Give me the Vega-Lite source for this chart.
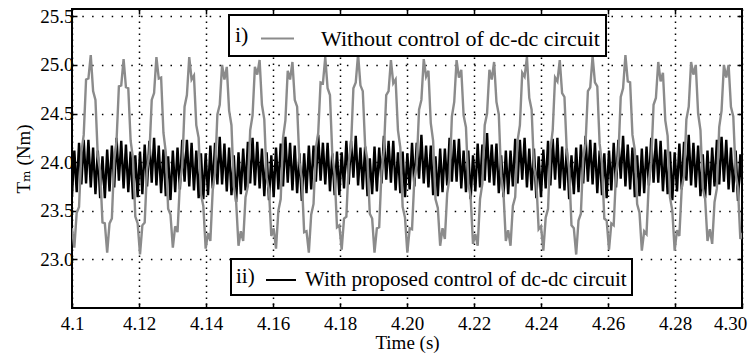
{
"$schema": "https://vega.github.io/schema/vega-lite/v6.json",
"width": 670, "height": 299,
"autosize": {"type": "none"},
"padding": {"left": 72, "top": 9, "right": 9, "bottom": 52},
"background": "white",
"data": {"values": [
{"t":4.1,"g":23.32,"b":23.65},{"t":4.1007,"g":23.12,"b":24.12},{"t":4.1014,"g":23.48,"b":23.69},{"t":4.1021,"g":23.54,"b":24.20},{"t":4.1028,"g":24.10,"b":23.77},{"t":4.1035,"g":24.28,"b":24.23},{"t":4.1042,"g":24.85,"b":23.78},{"t":4.1049,"g":24.86,"b":24.23},{"t":4.1056,"g":25.10,"b":23.74},{"t":4.1063,"g":24.73,"b":24.15},
{"t":4.107,"g":24.64,"b":23.67},{"t":4.1077,"g":24.06,"b":24.12},{"t":4.1084,"g":23.91,"b":23.63},{"t":4.1091,"g":23.38,"b":24.06},{"t":4.1098,"g":23.37,"b":23.63},{"t":4.1105,"g":23.07,"b":24.13},{"t":4.1112,"g":23.37,"b":23.70},{"t":4.1119,"g":23.42,"b":24.17},{"t":4.1126,"g":24.02,"b":23.74},{"t":4.1133,"g":24.22,"b":24.25},
{"t":4.114,"g":24.78,"b":23.81},{"t":4.1147,"g":24.79,"b":24.22},{"t":4.1154,"g":25.06,"b":23.73},{"t":4.1161,"g":24.77,"b":24.18},{"t":4.1168,"g":24.76,"b":23.69},{"t":4.1175,"g":24.22,"b":24.11},{"t":4.1182,"g":24.04,"b":23.62},{"t":4.1189,"g":23.44,"b":24.07},{"t":4.1196,"g":23.37,"b":23.64},{"t":4.1203,"g":23.05,"b":24.11},
{"t":4.121,"g":23.35,"b":23.67},{"t":4.1217,"g":23.38,"b":24.18},{"t":4.1224,"g":23.93,"b":23.75},{"t":4.1231,"g":24.08,"b":24.22},{"t":4.1238,"g":24.64,"b":23.79},{"t":4.1245,"g":24.71,"b":24.25},{"t":4.1252,"g":25.08,"b":23.76},{"t":4.1259,"g":24.86,"b":24.17},{"t":4.1266,"g":24.87,"b":23.68},{"t":4.1273,"g":24.30,"b":24.13},
{"t":4.128,"g":24.10,"b":23.65},{"t":4.1287,"g":23.52,"b":24.06},{"t":4.1294,"g":23.46,"b":23.61},{"t":4.1301,"g":23.12,"b":24.12},{"t":4.1308,"g":23.34,"b":23.69},{"t":4.1315,"g":23.28,"b":24.15},{"t":4.1322,"g":23.78,"b":23.72},{"t":4.1329,"g":23.95,"b":24.23},{"t":4.1336,"g":24.57,"b":23.80},{"t":4.1343,"g":24.69,"b":24.23},
{"t":4.135,"g":25.08,"b":23.75},{"t":4.1357,"g":24.85,"b":24.20},{"t":4.1364,"g":24.89,"b":23.71},{"t":4.1371,"g":24.38,"b":24.12},{"t":4.1378,"g":24.25,"b":23.63},{"t":4.1385,"g":23.67,"b":24.09},{"t":4.1392,"g":23.55,"b":23.62},{"t":4.1399,"g":23.11,"b":24.09},{"t":4.1406,"g":23.27,"b":23.66},{"t":4.1413,"g":23.19,"b":24.17},
{"t":4.142,"g":23.71,"b":23.73},{"t":4.1427,"g":23.89,"b":24.20},{"t":4.1434,"g":24.49,"b":23.77},{"t":4.1441,"g":24.59,"b":24.26},{"t":4.1448,"g":25.00,"b":23.77},{"t":4.1455,"g":24.85,"b":24.19},{"t":4.1462,"g":24.98,"b":23.70},{"t":4.1469,"g":24.53,"b":24.15},{"t":4.1476,"g":24.38,"b":23.66},{"t":4.1483,"g":23.75,"b":24.07},
{"t":4.149,"g":23.59,"b":23.59},{"t":4.1497,"g":23.14,"b":24.10},{"t":4.1504,"g":23.29,"b":23.67},{"t":4.1511,"g":23.19,"b":24.14},{"t":4.1518,"g":23.64,"b":23.71},{"t":4.1525,"g":23.75,"b":24.21},{"t":4.1532,"g":24.33,"b":23.78},{"t":4.1539,"g":24.48,"b":24.25},{"t":4.1546,"g":24.98,"b":23.76},{"t":4.1553,"g":24.90,"b":24.21},
{"t":4.156,"g":25.05,"b":23.73},{"t":4.1567,"g":24.59,"b":24.14},{"t":4.1574,"g":24.44,"b":23.65},{"t":4.1581,"g":23.84,"b":24.10},{"t":4.1588,"g":23.71,"b":23.61},{"t":4.1595,"g":23.24,"b":24.07},{"t":4.1602,"g":23.32,"b":23.64},{"t":4.1609,"g":23.11,"b":24.15},{"t":4.1616,"g":23.50,"b":23.72},{"t":4.1623,"g":23.62,"b":24.19},
{"t":4.163,"g":24.25,"b":23.75},{"t":4.1637,"g":24.43,"b":24.26},{"t":4.1644,"g":24.94,"b":23.79},{"t":4.1651,"g":24.85,"b":24.20},{"t":4.1658,"g":25.03,"b":23.71},{"t":4.1665,"g":24.64,"b":24.17},{"t":4.1672,"g":24.57,"b":23.68},{"t":4.1679,"g":24.00,"b":24.09},{"t":4.1686,"g":23.83,"b":23.60},{"t":4.1693,"g":23.28,"b":24.09},
{"t":4.17,"g":23.29,"b":23.68},{"t":4.1707,"g":23.07,"b":24.17},{"t":4.1714,"g":23.46,"b":23.72},{"t":4.1721,"g":23.57,"b":24.17},{"t":4.1728,"g":24.15,"b":23.80},{"t":4.1735,"g":24.30,"b":24.28},{"t":4.1742,"g":24.82,"b":23.81},{"t":4.1749,"g":24.81,"b":24.20},{"t":4.1756,"g":25.08,"b":23.77},{"t":4.1763,"g":24.76,"b":24.20},
{"t":4.177,"g":24.69,"b":23.70},{"t":4.1777,"g":24.08,"b":24.09},{"t":4.1784,"g":23.88,"b":23.66},{"t":4.1791,"g":23.33,"b":24.11},{"t":4.1798,"g":23.35,"b":23.66},{"t":4.1805,"g":23.10,"b":24.10},{"t":4.1812,"g":23.42,"b":23.73},{"t":4.1819,"g":23.44,"b":24.22},{"t":4.1826,"g":23.99,"b":23.77},{"t":4.1833,"g":24.17,"b":24.22},
{"t":4.184,"g":24.76,"b":23.84},{"t":4.1847,"g":24.82,"b":24.27},{"t":4.1854,"g":25.11,"b":23.76},{"t":4.1861,"g":24.79,"b":24.15},{"t":4.1868,"g":24.73,"b":23.72},{"t":4.1875,"g":24.17,"b":24.16},{"t":4.1882,"g":24.02,"b":23.65},{"t":4.1889,"g":23.47,"b":24.04},{"t":4.1896,"g":23.42,"b":23.67},{"t":4.1903,"g":23.07,"b":24.16},
{"t":4.191,"g":23.32,"b":23.70},{"t":4.1917,"g":23.33,"b":24.15},{"t":4.1924,"g":23.91,"b":23.78},{"t":4.1931,"g":24.11,"b":24.27},{"t":4.1938,"g":24.69,"b":23.82},{"t":4.1945,"g":24.73,"b":24.22},{"t":4.1952,"g":25.05,"b":23.79},{"t":4.1959,"g":24.81,"b":24.22},{"t":4.1966,"g":24.85,"b":23.71},{"t":4.1973,"g":24.33,"b":24.10},
{"t":4.198,"g":24.15,"b":23.68},{"t":4.1987,"g":23.54,"b":24.11},{"t":4.1994,"g":23.43,"b":23.64},{"t":4.2001,"g":23.07,"b":24.09},{"t":4.2008,"g":23.32,"b":23.72},{"t":4.2015,"g":23.31,"b":24.20},{"t":4.2022,"g":23.83,"b":23.75},{"t":4.2029,"g":23.97,"b":24.20},{"t":4.2036,"g":24.54,"b":23.83},{"t":4.2043,"g":24.64,"b":24.28},
{"t":4.205,"g":25.06,"b":23.78},{"t":4.2057,"g":24.88,"b":24.17},{"t":4.2064,"g":24.94,"b":23.74},{"t":4.2071,"g":24.40,"b":24.17},{"t":4.2078,"g":24.22,"b":23.66},{"t":4.2085,"g":23.62,"b":24.06},{"t":4.2092,"g":23.53,"b":23.65},{"t":4.2099,"g":23.14,"b":24.14},{"t":4.2106,"g":23.32,"b":23.69},{"t":4.2113,"g":23.21,"b":24.14},
{"t":4.212,"g":23.68,"b":23.76},{"t":4.2127,"g":23.84,"b":24.25},{"t":4.2134,"g":24.47,"b":23.80},{"t":4.2141,"g":24.62,"b":24.23},{"t":4.2148,"g":25.05,"b":23.80},{"t":4.2155,"g":24.87,"b":24.24},{"t":4.2162,"g":24.95,"b":23.73},{"t":4.2169,"g":24.48,"b":24.12},{"t":4.2176,"g":24.36,"b":23.69},{"t":4.2183,"g":23.78,"b":24.12},
{"t":4.219,"g":23.64,"b":23.62},{"t":4.2197,"g":23.16,"b":24.07},{"t":4.2204,"g":23.26,"b":23.70},{"t":4.2211,"g":23.14,"b":24.19},{"t":4.2218,"g":23.62,"b":23.74},{"t":4.2225,"g":23.78,"b":24.18},{"t":4.2232,"g":24.38,"b":23.81},{"t":4.2239,"g":24.50,"b":24.30},{"t":4.2246,"g":24.95,"b":23.79},{"t":4.2253,"g":24.85,"b":24.18},
{"t":4.226,"g":25.03,"b":23.76},{"t":4.2267,"g":24.62,"b":24.19},{"t":4.2274,"g":24.49,"b":23.68},{"t":4.2281,"g":23.86,"b":24.07},{"t":4.2288,"g":23.68,"b":23.64},{"t":4.2295,"g":23.19,"b":24.12},{"t":4.2302,"g":23.30,"b":23.67},{"t":4.2309,"g":23.14,"b":24.12},{"t":4.2316,"g":23.55,"b":23.75},{"t":4.2323,"g":23.64,"b":24.24},
{"t":4.233,"g":24.22,"b":23.78},{"t":4.2337,"g":24.38,"b":24.23},{"t":4.2344,"g":24.92,"b":23.82},{"t":4.2351,"g":24.88,"b":24.25},{"t":4.2358,"g":25.08,"b":23.74},{"t":4.2365,"g":24.66,"b":24.14},{"t":4.2372,"g":24.54,"b":23.71},{"t":4.2379,"g":23.95,"b":24.14},{"t":4.2386,"g":23.81,"b":23.63},{"t":4.2393,"g":23.31,"b":24.06},
{"t":4.24,"g":23.34,"b":23.64},{"t":4.2407,"g":23.09,"b":24.13},{"t":4.2414,"g":23.43,"b":23.73},{"t":4.2421,"g":23.52,"b":24.22},{"t":4.2428,"g":24.13,"b":23.76},{"t":4.2435,"g":24.33,"b":24.24},{"t":4.2442,"g":24.87,"b":23.82},{"t":4.2449,"g":24.83,"b":24.25},{"t":4.2456,"g":25.05,"b":23.73},{"t":4.2463,"g":24.71,"b":24.16},
{"t":4.247,"g":24.67,"b":23.71},{"t":4.2477,"g":24.11,"b":24.14},{"t":4.2484,"g":23.93,"b":23.62},{"t":4.2491,"g":23.35,"b":24.07},{"t":4.2498,"g":23.32,"b":23.67},{"t":4.2505,"g":23.05,"b":24.15},{"t":4.2512,"g":23.40,"b":23.69},{"t":4.2519,"g":23.47,"b":24.18},{"t":4.2526,"g":24.04,"b":23.78},{"t":4.2533,"g":24.19,"b":24.27},
{"t":4.254,"g":24.73,"b":23.80},{"t":4.2547,"g":24.77,"b":24.23},{"t":4.2554,"g":25.09,"b":23.77},{"t":4.2561,"g":24.82,"b":24.20},{"t":4.2568,"g":24.78,"b":23.68},{"t":4.2575,"g":24.19,"b":24.12},{"t":4.2582,"g":23.99,"b":23.66},{"t":4.2589,"g":23.42,"b":24.09},{"t":4.2596,"g":23.40,"b":23.63},{"t":4.2603,"g":23.10,"b":24.12},
{"t":4.261,"g":23.37,"b":23.71},{"t":4.2617,"g":23.35,"b":24.20},{"t":4.2624,"g":23.88,"b":23.74},{"t":4.2631,"g":24.06,"b":24.23},{"t":4.2638,"g":24.67,"b":23.83},{"t":4.2645,"g":24.76,"b":24.27},{"t":4.2652,"g":25.10,"b":23.75},{"t":4.2659,"g":24.83,"b":24.18},{"t":4.2666,"g":24.82,"b":23.72},{"t":4.2673,"g":24.28,"b":24.15},
{"t":4.268,"g":24.13,"b":23.64},{"t":4.2687,"g":23.57,"b":24.07},{"t":4.2694,"g":23.48,"b":23.65},{"t":4.2701,"g":23.09,"b":24.14},{"t":4.2708,"g":23.29,"b":23.68},{"t":4.2715,"g":23.26,"b":24.16},{"t":4.2722,"g":23.81,"b":23.76},{"t":4.2729,"g":24.00,"b":24.25},{"t":4.2736,"g":24.59,"b":23.79},{"t":4.2743,"g":24.66,"b":24.24},
{"t":4.275,"g":25.03,"b":23.79},{"t":4.2757,"g":24.83,"b":24.22},{"t":4.2764,"g":24.92,"b":23.70},{"t":4.2771,"g":24.43,"b":24.13},{"t":4.2778,"g":24.27,"b":23.67},{"t":4.2785,"g":23.64,"b":24.11},{"t":4.2792,"g":23.50,"b":23.61},{"t":4.2799,"g":23.09,"b":24.10},{"t":4.2806,"g":23.30,"b":23.70},{"t":4.2813,"g":23.24,"b":24.19},
{"t":4.282,"g":23.73,"b":23.72},{"t":4.2827,"g":23.86,"b":24.21},{"t":4.2834,"g":24.44,"b":23.81},{"t":4.2841,"g":24.57,"b":24.28},{"t":4.2848,"g":25.03,"b":23.76},{"t":4.2855,"g":24.90,"b":24.20},{"t":4.2862,"g":25.00,"b":23.74},{"t":4.2869,"g":24.50,"b":24.17},{"t":4.2876,"g":24.33,"b":23.65},{"t":4.2883,"g":23.73,"b":24.08},
{"t":4.289,"g":23.62,"b":23.63},{"t":4.2897,"g":23.19,"b":24.12},{"t":4.2904,"g":23.31,"b":23.66},{"t":4.2911,"g":23.16,"b":24.15},{"t":4.2918,"g":23.59,"b":23.75},{"t":4.2925,"g":23.73,"b":24.23},{"t":4.2932,"g":24.36,"b":23.77},{"t":4.2939,"g":24.53,"b":24.26},{"t":4.2946,"g":25.00,"b":23.80},{"t":4.2953,"g":24.87,"b":24.23},
{"t":4.296,"g":25.00,"b":23.72},{"t":4.2967,"g":24.57,"b":24.15},{"t":4.2974,"g":24.47,"b":23.69},{"t":4.2981,"g":23.89,"b":24.12},{"t":4.2988,"g":23.73,"b":23.60},{"t":4.2995,"g":23.21,"b":24.08},{"t":4.3002,"g":23.27,"b":23.68}
]},
"layer": [
{
"mark": {"type": "line", "strokeWidth": 2.4, "clip": true},
"encoding": {
"x": {"field": "t", "type": "quantitative", "scale": {"domain": [4.1, 4.3], "nice": false, "zero": false},
"axis": {"orient": "bottom", "values": [4.1,4.12,4.14,4.16,4.18,4.2,4.22,4.24,4.26,4.28,4.3],
"labelExpr": "datum.value < 4.105 ? '4.1' : format(datum.value, '.2f')",
"labelFlush": false,
"labelOffset": {"condition": {"test": "datum.value > 4.29", "value": -12}, "value": 0},
"grid": true, "gridDash": [1.5, 4.5], "labelPadding": 11, "title": "Time (s)", "titlePadding": 0}},
"y": {"field": "b", "type": "quantitative", "scale": {"domain": [22.5, 25.575], "nice": false, "zero": false},
"axis": {"orient": "left", "values": [23, 23.5, 24, 24.5, 25, 25.5], "format": ".1f", "grid": true, "gridDash": [1.5, 8.3], "labelPadding": 4, "title": "Tₘ (Nm)", "titlePadding": 6}},
"color": {"datum": "With proposed control of dc-dc circuit", "scale": {"range": ["black"]},
"legend": {"orient": "none", "legendX": 159, "legendY": 250, "title": "ii)", "titleOrient": "left", "titlePadding": 10, "labelOffset": 8, "symbolSize": 900, "labelFontSize": 21, "titleFontSize": 21, "padding": 5}}
}
},
{
"mark": {"type": "line", "strokeWidth": 2.4, "clip": true},
"encoding": {
"x": {"field": "t", "type": "quantitative", "axis": {"orient": "top", "values": [4.12,4.14,4.16,4.18,4.2,4.22,4.24,4.26,4.28], "labels": false, "grid": false, "title": null}},
"y": {"field": "g", "type": "quantitative", "axis": {"orient": "right", "values": [23, 23.5, 24, 24.5, 25, 25.5], "labels": false, "grid": false, "title": null}},
"color": {"datum": "Without control of dc-dc circuit", "scale": {"range": ["#8b8b8b"]},
"legend": {"orient": "none", "legendX": 157, "legendY": 6, "title": "i)", "titleOrient": "left", "titlePadding": 11, "labelOffset": 26, "symbolSize": 1089}}
}
}
],
"resolve": {"scale": {"color": "independent"}, "axis": {"x": "independent", "y": "independent"}},
"config": {
"view": {"stroke": "black", "strokeWidth": 2},
"axis": {"domain": false, "labelFont": "Liberation Serif, Times New Roman, DejaVu Serif, serif", "titleFont": "Liberation Serif, Times New Roman, DejaVu Serif, serif", "labelFontSize": 19, "titleFontSize": 19, "titleFontWeight": "normal", "labelColor": "black", "titleColor": "black", "tickColor": "black", "tickWidth": 1.5, "tickSize": -5, "gridColor": "black", "gridWidth": 1.5, "gridOpacity": 1},
"legend": {"labelFont": "Liberation Serif, Times New Roman, DejaVu Serif, serif", "titleFont": "Liberation Serif, Times New Roman, DejaVu Serif, serif", "labelFontSize": 22, "titleFontSize": 22, "titleFontWeight": "normal", "labelColor": "black", "titleColor": "black", "labelLimit": 500, "symbolStrokeWidth": 2, "symbolType": "stroke", "padding": 6, "strokeColor": "black", "strokeWidth": 2, "fillColor": "white", "cornerRadius": 0, "titleBaseline": "middle", "labelBaseline": "middle"}
}
}
